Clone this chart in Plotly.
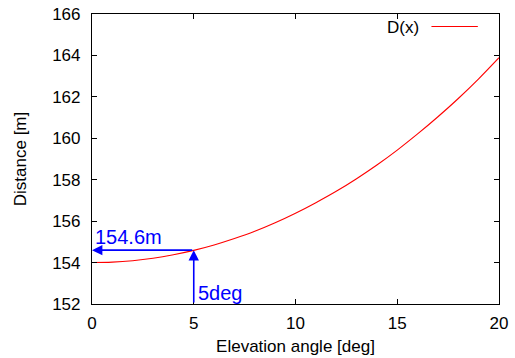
import plotly.graph_objects as go

# Data
angle_deg = list(range(0, 21))
distance_m = [154.00, 154.02, 154.09, 154.21, 154.38, 154.59, 154.85, 155.16, 155.51, 155.92,
              156.38, 156.89, 157.44, 158.05, 158.71, 159.43, 160.21, 161.04, 161.92, 162.87, 163.89]
x_ticks = [0, 5, 10, 15, 20]
y_ticks = [152, 154, 156, 158, 160, 162, 164, 166]
mark_angle = 5
mark_dist = 154.6
series_name = "D(x)"

font_family = "Liberation Sans, Arial, sans-serif"

fig = go.Figure()
fig.add_trace(go.Scatter(x=angle_deg, y=distance_m, mode="lines", name=series_name,
                         line=dict(color="#ff0000", width=1.1, shape="spline"),
                         showlegend=False))

# arrows
fig.add_annotation(x=0, y=mark_dist, ax=mark_angle, ay=mark_dist, xref="x", yref="y",
                   axref="x", ayref="y", showarrow=True, arrowhead=2, arrowsize=1.3,
                   arrowwidth=1.6, arrowcolor="#0000ff", text="")
fig.add_annotation(x=mark_angle, y=mark_dist, ax=mark_angle, ay=152, xref="x", yref="y",
                   axref="x", ayref="y", showarrow=True, arrowhead=2, arrowsize=1.3,
                   arrowwidth=1.6, arrowcolor="#0000ff", text="")
fig.add_annotation(x=0, y=mark_dist, xref="x", yref="y", text=f"{mark_dist}m",
                   showarrow=False, xanchor="left", yanchor="bottom", xshift=1, yshift=0,
                   font=dict(family=font_family, size=20, color="#0000ff"))
fig.add_annotation(x=mark_angle, y=152, xref="x", yref="y", text=f"{mark_angle}deg",
                   showarrow=False, xanchor="left", yanchor="bottom", xshift=2, yshift=-2,
                   font=dict(family=font_family, size=20, color="#0000ff"))

# legend (gnuplot style: text then sample)
fig.add_annotation(x=0.809, y=0.955, xref="paper", yref="paper", text=series_name,
                   showarrow=False, xanchor="right", yanchor="middle",
                   font=dict(family=font_family, size=17, color="black"))
fig.add_shape(type="line", xref="paper", yref="paper", x0=0.834, x1=0.948, y0=0.957, y1=0.957,
              line=dict(color="#ff0000", width=1.1))

axis_common = dict(showgrid=False, zeroline=False, showline=True, linecolor="black",
                   linewidth=1.2, mirror="ticks", ticks="inside", ticklen=5,
                   tickcolor="black", tickwidth=1, automargin=False,
                   tickfont=dict(family=font_family, size=17, color="black"))
fig.update_xaxes(range=[0, 20], tickvals=x_ticks, ticklabelstandoff=3,
                 title=dict(text="Elevation angle [deg]", standoff=8,
                            font=dict(family=font_family, size=17, color="black")),
                 **axis_common)
fig.update_yaxes(range=[152, 166], tickvals=y_ticks, ticklabelstandoff=7,
                 title=dict(text="Distance [m]", standoff=21,
                            font=dict(family=font_family, size=17, color="black")),
                 **axis_common)

fig.update_layout(width=515, height=358, margin=dict(l=92, r=16, t=14, b=54),
                  plot_bgcolor="white", paper_bgcolor="white")
fig.write_html("out.html", config={"displayModeBar": False},
               post_script="document.body.style.margin='0';document.body.style.overflow='hidden';")
